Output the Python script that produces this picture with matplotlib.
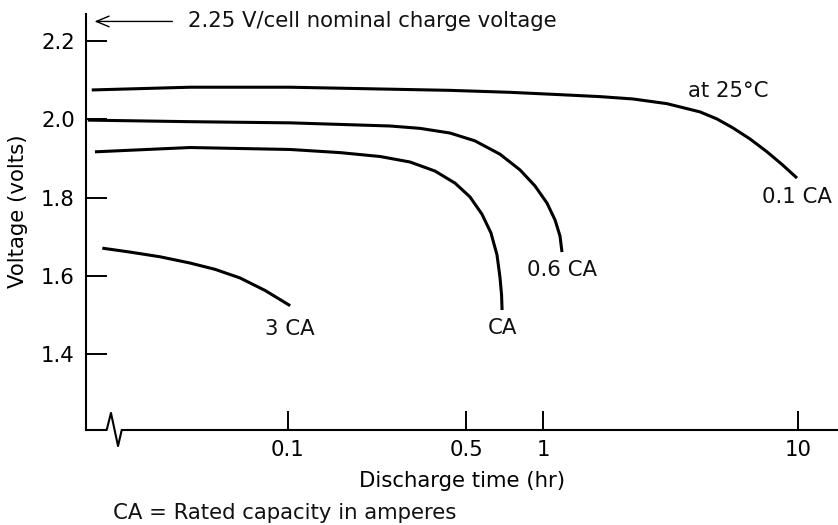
import numpy as np
import matplotlib.pyplot as plt

plt.rcParams['font.family'] = 'DejaVu Sans'
plt.rcParams['font.size'] = 15.3

# discharge curves at 25 C: time (hr) vs cell voltage
t_01ca = [0.0170, 0.0413, 0.102, 0.251, 0.432, 0.742, 1.166, 1.673, 2.254, 3.064,
          4.127, 4.81, 5.56, 6.48, 7.56, 8.65, 9.91]
v_01ca = [2.075, 2.082, 2.082, 2.077, 2.074, 2.069, 2.063, 2.058, 2.052, 2.040,
          2.019, 2.001, 1.978, 1.950, 1.917, 1.885, 1.850]

t_06ca = [0.0164, 0.0413, 0.102, 0.251, 0.329, 0.432, 0.541, 0.678, 0.812, 0.930,
          1.037, 1.115, 1.166, 1.187]
v_06ca = [1.998, 1.994, 1.991, 1.983, 1.977, 1.965, 1.945, 1.911, 1.871, 1.830,
          1.786, 1.743, 1.702, 1.661]

t_1ca = [0.0175, 0.0413, 0.102, 0.160, 0.230, 0.301, 0.377, 0.452, 0.517, 0.576,
         0.625, 0.660, 0.678, 0.688, 0.691]
v_1ca = [1.917, 1.928, 1.923, 1.915, 1.905, 1.891, 1.868, 1.837, 1.802, 1.758,
         1.710, 1.654, 1.597, 1.551, 1.513]

t_3ca = [0.0187, 0.0240, 0.0315, 0.0413, 0.0517, 0.0648, 0.0813, 0.102]
v_3ca = [1.671, 1.661, 1.649, 1.633, 1.617, 1.595, 1.563, 1.524]

curves = [
    (t_01ca, v_01ca, '0.1 CA', -25),
    (t_06ca, v_06ca, '0.6 CA', -24),
    (t_1ca, v_1ca, 'CA', -24),
    (t_3ca, v_3ca, '3 CA', -29),
]

xticks = [0.1, 0.5, 1, 10]
xtick_labels = ['0.1', '0.5', '1', '10']
yticks = [1.4, 1.6, 1.8, 2.0, 2.2]
yticks_labels = ['1.4', '1.6', '1.8', '2.0', '2.2']
charge_voltage = 2.25

fig = plt.figure(figsize=(8.38, 5.25), dpi=100)
ax = fig.add_axes([86/838, 95/525, 752/838, 416/525])

for t, v, name, dy in curves:
    ax.plot(t, v, color='black', lw=2.2, solid_capstyle='butt', solid_joinstyle='round')
    ax.annotate(name, xy=(t[-1], v[-1]), xytext=(0, dy), textcoords='offset pixels',
                ha='center', va='baseline', color='#111111')

ax.text(3.70, 2.058, 'at 25\u00b0C', ha='left', va='baseline', color='#111111')

# nominal charge voltage arrow pointing at the voltage axis
ax.annotate('', xy=(0.0170, charge_voltage), xytext=(0.0361, charge_voltage),
            arrowprops=dict(arrowstyle='->, head_length=0.6, head_width=0.25', lw=1.0, color='black'),
            annotation_clip=False)
ax.text(0.0406, charge_voltage, '2.25 V/cell nominal charge voltage', ha='left', va='center',
        color='#111111', clip_on=False)

ax.set_xscale('log')
ax.set_xlim(0.01614, 14.35)
ax.set_ylim(1.2066, 2.269)

ax.set_xticks(xticks)
ax.set_xticklabels(xtick_labels)
ax.minorticks_off()
ax.set_yticks(yticks)
ax.set_yticklabels(yticks_labels)
ax.tick_params(axis='x', direction='in', length=14, width=1.4, pad=7)
ax.tick_params(axis='y', direction='in', length=15, width=1.4, pad=8)

for side in ['top', 'right', 'bottom']:
    ax.spines[side].set_visible(False)
ax.spines['left'].set_linewidth(1.5)

# time axis line with a break mark near the origin
bx = [0, 0.0275, 0.0332, 0.0426, 0.0475, 1]
by = [0, 0, 0.041, -0.0385, 0, 0]
ax.plot(bx, by, color='black', lw=1.5, transform=ax.transAxes, clip_on=False)

ax.set_ylabel('Voltage (volts)', va='center')
ax.yaxis.set_label_coords(-0.0898, 0.526)
ax.set_xlabel('Discharge time (hr)', va='baseline')
ax.xaxis.set_label_coords(0.5, -0.1377)

fig.text(113/838, 6/525, 'CA = Rated capacity in amperes', ha='left', va='baseline',
         color='#111111')

fig.savefig('out.png', dpi=100)
